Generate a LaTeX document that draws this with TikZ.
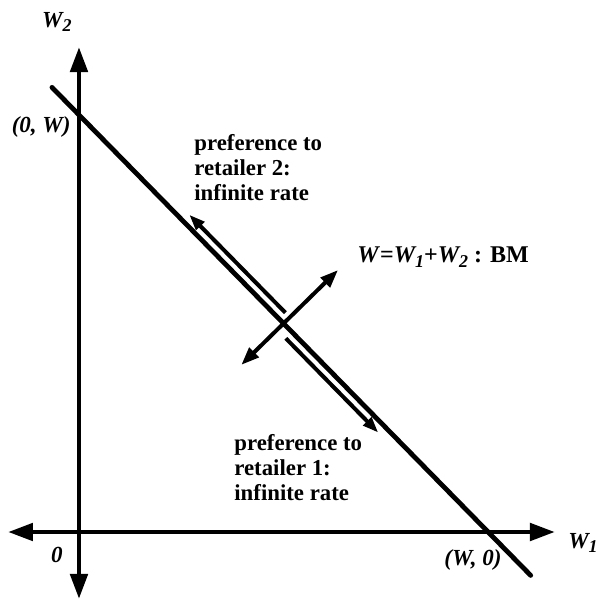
\documentclass[tikz,border=0pt]{standalone}
\usepackage{fontspec}
\setmainfont{Liberation Serif}
\usetikzlibrary{arrows.meta,calc}

\newcommand{\Wsub}[1]{W\raisebox{-0.45ex}{\fontsize{9}{9}\selectfont #1}}

\begin{document}
\begin{tikzpicture}[line width=2.4pt,
  axisline/.style={<->,>={Triangle[length=12.5pt,width=8.5pt]}},
  bm/.style={<->,line width=2pt,>={Triangle[length=9pt,width=6.5pt]}},
  pref/.style={->,line width=2pt,>={Triangle[length=8pt,width=5.5pt]}},
  lab/.style={font=\bfseries\itshape\fontsize{11.5}{12.5}\selectfont},
  txt/.style={font=\bfseries\fontsize{11.4}{12.5}\selectfont,align=left,inner sep=0pt}]

\useasboundingbox (-1.388,-1.230) rectangle (9.138,9.349);

\def \Wy{7.33}
\def \Wx{7.19}
\def \off{0.155cm}

\coordinate (O) at (0,0);
\coordinate (A) at (0,\Wy);
\coordinate (B) at (\Wx,0);
\coordinate (M) at ($(A)!0.5!(B)$);
\coordinate (xl) at (-1.248,0);
\coordinate (xr) at (8.365,0);
\coordinate (yb) at (0,-1.177);
\coordinate (yt) at (0,8.523);

% axes
\draw[axisline] (xl) -- (xr);
\draw[axisline] (yb) -- (yt);

% W = W1 + W2
\draw[line cap=round] ($(A)!-0.066!(B)$) -- ($(A)!1.104!(B)$);
\draw[bm] ($(M)!1.04cm!-90:(B)$) -- ($(M)!1.34cm!90:(B)$);

% preferences
\draw[pref] ($(A)!0.489!(B)!\off!90:(B)$) -- ($(A)!0.254!(B)!\off!90:(B)$);
\draw[pref] ($(A)!0.521!(B)!\off!-90:(B)$) -- ($(A)!0.747!(B)!\off!-90:(B)$);

\node[lab] (w2) at (-0.387,8.962) {\Wsub{2}};
\node[lab] (w1) at (8.857,-0.193) {\Wsub{1}};
\node[lab] (zero) at (-0.387,-0.404) {0};
\node[lab,anchor=east,inner sep=0pt] (a0w) at (-0.105,7.117) {(0, W)};
\node[lab] (aw0) at (6.924,-0.492) {(W, 0)};

\node[txt,anchor=west] (ret2) at (1.986,6.397) {preference to\\retailer 2:\\infinite rate};
\node[txt,anchor=west] (ret1) at (2.689,1.125) {preference to\\retailer 1:\\infinite rate};
\node[anchor=west,inner sep=0pt,font=\bfseries\fontsize{12}{13}\selectfont] (bmlab) at (4.850,4.833)
  {\textit{W}=\textit{\Wsub{1}}+\textit{\Wsub{2}} : BM};

\end{tikzpicture}
\end{document}
